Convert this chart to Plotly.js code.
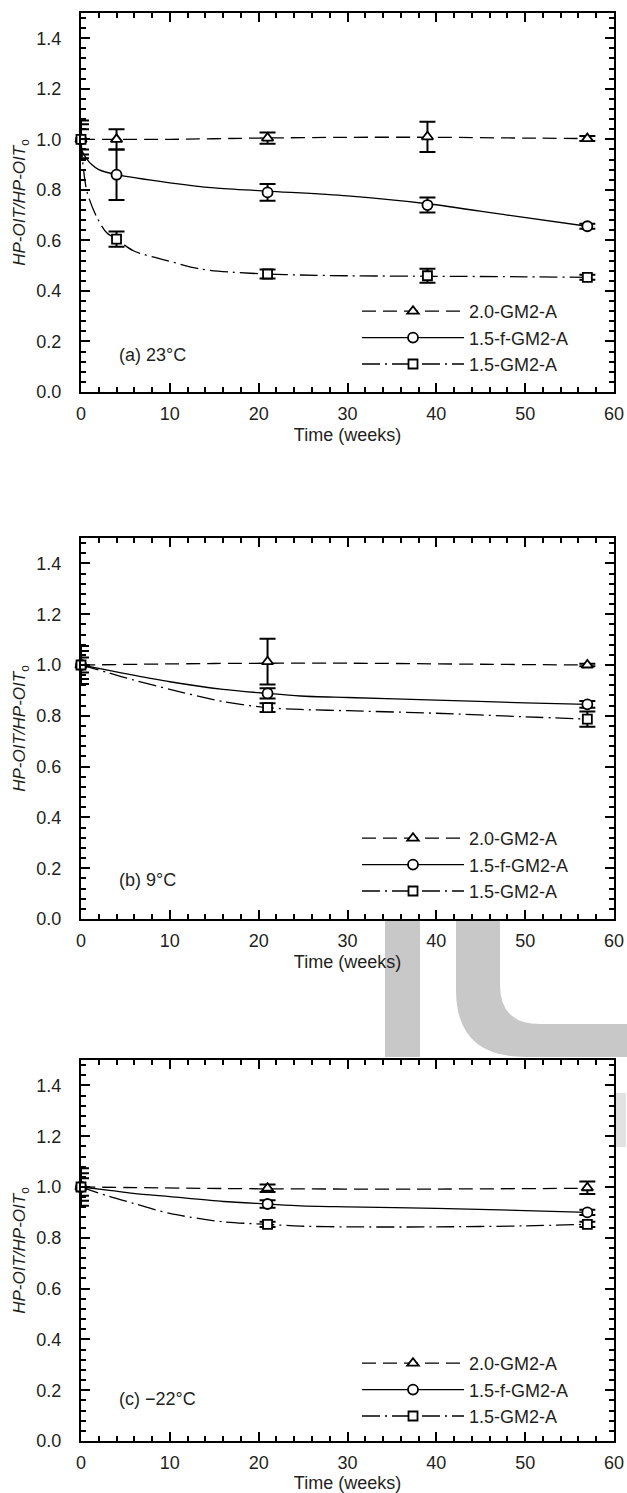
<!DOCTYPE html>
<html><head><meta charset="utf-8">
<script src="https://cdn.plot.ly/plotly-3.0.1.min.js"></script>
<style>html,body{margin:0;padding:0;background:#fff}</style>
</head><body><div id="chart" style="width:627px;height:1493px"></div>
<script>
// ---------- data ----------
const seriesNames = ['2.0-GM2-A', '1.5-f-GM2-A', '1.5-GM2-A'];
const panelLabels = ['(a) 23°C', '(b) 9°C', '(c) \u221222°C'];
const xTitle = 'Time (weeks)';
const yTitle = '<i>HP-OIT/HP-OIT</i><sub>o</sub>';

// measured points (weeks)
const weeksA = [0, 4, 21, 39, 57];
const weeksBC = [0, 21, 57];

// panel (a) 23°C
const a_tri_y = [1.0, 1.0, 1.005, 1.01, 1.003];
const a_tri_err = [0.04, 0.04, 0.022, 0.06, 0.01];
const a_cir_y = [1.0, 0.86, 0.79, 0.74, 0.656];
const a_cir_err = [0.06, 0.1, 0.033, 0.03, 0.01];
const a_sq_y = [1.0, 0.605, 0.467, 0.46, 0.454];
const a_sq_err = [0.075, 0.03, 0.018, 0.028, 0.01];

// panel (b) 9°C
const b_tri_y = [1.0, 1.013, 1.0];
const b_tri_err = [0.03, 0.09, 0.005];
const b_cir_y = [1.0, 0.888, 0.845];
const b_cir_err = [0.055, 0.02, 0.013];
const b_sq_y = [1.0, 0.832, 0.787];
const b_sq_err = [0.075, 0.017, 0.03];

// panel (c) -22°C
const c_tri_y = [1.0, 0.995, 0.997];
const c_tri_err = [0.034, 0.015, 0.025];
const c_cir_y = [1.0, 0.933, 0.9];
const c_cir_err = [0.054, 0.015, 0.01];
const c_sq_y = [1.0, 0.853, 0.853];
const c_sq_err = [0.074, 0.01, 0.01];

// fitted curves
const a_triFit_x = [0, 10, 20, 30, 40, 50, 57];
const a_triFit_y = [1.0, 1.0, 1.005, 1.008, 1.008, 1.005, 1.003];
const a_cirFit_x = [0, 0.6, 1.2, 2, 4, 10, 15, 21, 30, 39, 48, 57];
const a_cirFit_y = [0.96, 0.925, 0.9, 0.88, 0.86, 0.828, 0.808, 0.795, 0.776, 0.745, 0.70, 0.656];
const a_sqFit_x = [0, 0.26, 0.7, 1.8, 2.9, 4, 5.9, 9.7, 13.4, 17.1, 21, 24.7, 30, 40, 50, 57];
const a_sqFit_y = [1.0, 0.887, 0.789, 0.69, 0.63, 0.605, 0.559, 0.52, 0.487, 0.474, 0.467, 0.463, 0.46, 0.458, 0.456, 0.454];

const b_triFit_x = [0, 15, 30, 45, 57];
const b_triFit_y = [1.0, 1.006, 1.007, 1.003, 1.0];
const b_cirFit_x = [0, 3, 5.9, 10, 16, 21, 24.7, 30, 40, 50, 57];
const b_cirFit_y = [1.0, 0.98, 0.96, 0.934, 0.904, 0.888, 0.878, 0.872, 0.862, 0.851, 0.845];
const b_sqFit_x = [0, 3, 5.9, 10, 16, 21, 24.7, 30, 40, 50, 57];
const b_sqFit_y = [1.0, 0.97, 0.941, 0.904, 0.856, 0.832, 0.825, 0.82, 0.81, 0.796, 0.787];

const c_triFit_x = [0, 20, 40, 57];
const c_triFit_y = [1.0, 0.993, 0.992, 0.995];
const c_cirFit_x = [0, 3, 5.9, 10, 16, 21, 24.7, 30, 40, 50, 57];
const c_cirFit_y = [1.0, 0.988, 0.975, 0.962, 0.943, 0.933, 0.926, 0.922, 0.916, 0.907, 0.9];
const c_sqFit_x = [0, 3, 5.9, 10, 16, 21, 24.7, 30, 40, 50, 57];
const c_sqFit_y = [1.0, 0.965, 0.936, 0.896, 0.863, 0.853, 0.846, 0.843, 0.843, 0.847, 0.853];

// ---------- styling / layout ----------
const INK = '#000';
const TXT = '#231f20';
const FONT = 'Liberation Sans, Arial, Helvetica, sans-serif';
const ML = 81, MR = 13, MT = 13, MB = 52, W = 627, H = 1493;
const PW = W - ML - MR, PH = H - MT - MB;
const px2x = px => (px - ML) / PW;
const px2y = py => (H - MB - py) / PH;

const panelsPx = [[13, 392], [538, 919], [1060, 1441]];
const legendOffsets = [99, 99, 96];
const labelOffsets = [37, 39, 42];
const symbols = ['triangle-up', 'circle', 'square'];
const sizes = [10, 10, 9];
const dashes = ['14px,7px', 'solid', '18px,5px,2px,5px'];

const panels = [
  {x: weeksA, ys: [a_tri_y, a_cir_y, a_sq_y], errs: [a_tri_err, a_cir_err, a_sq_err],
   fits: [[a_triFit_x, a_triFit_y], [a_cirFit_x, a_cirFit_y], [a_sqFit_x, a_sqFit_y]]},
  {x: weeksBC, ys: [b_tri_y, b_cir_y, b_sq_y], errs: [b_tri_err, b_cir_err, b_sq_err],
   fits: [[b_triFit_x, b_triFit_y], [b_cirFit_x, b_cirFit_y], [b_sqFit_x, b_sqFit_y]]},
  {x: weeksBC, ys: [c_tri_y, c_cir_y, c_sq_y], errs: [c_tri_err, c_cir_err, c_sq_err],
   fits: [[c_triFit_x, c_triFit_y], [c_cirFit_x, c_cirFit_y], [c_sqFit_x, c_sqFit_y]]}
];

const traces = [];
const layout = {
  width: W, height: H,
  margin: {l: ML, r: MR, t: MT, b: MB},
  paper_bgcolor: '#fff', plot_bgcolor: '#fff',
  font: {family: FONT, size: 18, color: TXT},
  showlegend: true,
  annotations: [], shapes: []
};

panels.forEach((p, i) => {
  const n = i === 0 ? '' : String(i + 1);
  const xa = 'x' + n, ya = 'y' + n;
  const legName = 'legend' + n;
  for (let s = 0; s < 3; s++) {
    traces.push({
      x: p.fits[s][0], y: p.fits[s][1], xaxis: xa, yaxis: ya,
      mode: 'lines', line: {color: INK, width: 1.3, dash: dashes[s], shape: 'spline', smoothing: 0.8},
      showlegend: false, hoverinfo: 'skip'
    });
  }
  for (let s = 0; s < 3; s++) {
    traces.push({
      x: p.x, y: p.ys[s], xaxis: xa, yaxis: ya, mode: 'markers', cliponaxis: false,
      marker: {symbol: symbols[s], size: sizes[s], color: '#fff', line: {color: INK, width: 1.8}},
      error_y: {type: 'data', array: p.errs[s], visible: true, color: INK, thickness: 2, width: 8},
      showlegend: false, name: seriesNames[s]
    });
  }
  for (let s = 0; s < 3; s++) {
    // legend entry only (single empty point)
    traces.push({
      x: [null], y: [null], xaxis: xa, yaxis: ya, mode: 'lines+markers', name: seriesNames[s],
      legend: legName, showlegend: true,
      line: {color: INK, width: 1.3, dash: dashes[s]},
      marker: {symbol: symbols[s], size: sizes[s], color: '#fff', line: {color: INK, width: 1.8}}
    });
  }
  const [top, bot] = panelsPx[i];
  layout['xaxis' + n] = {
    anchor: ya, domain: [0, 1], range: [0, 60], dtick: 10, tick0: 0,
    ticks: 'inside', ticklen: 9, tickwidth: 2, tickcolor: INK,
    showline: true, linewidth: 2, linecolor: INK, mirror: 'allticks',
    minor: {dtick: 2, ticklen: 5, tickwidth: 2, tickcolor: INK, ticks: 'inside'},
    showgrid: false, zeroline: false, ticklabelstandoff: 4,
    tickfont: {size: 18, color: TXT, family: FONT},
    title: {text: xTitle, standoff: 6, font: {size: 18, color: TXT, family: FONT}},
    automargin: false, fixedrange: true
  };
  layout['yaxis' + n] = {
    anchor: xa, domain: [px2y(bot), px2y(top)], range: [0, 1.5], dtick: 0.2, tick0: 0, tickformat: '.1f',
    ticks: 'inside', ticklen: 9, tickwidth: 2, tickcolor: INK,
    showline: true, linewidth: 2, linecolor: INK, mirror: 'allticks',
    minor: {dtick: 0.04, ticklen: 5, tickwidth: 2, tickcolor: INK, ticks: 'inside'},
    showgrid: false, zeroline: false, ticklabelstandoff: 14,
    tickfont: {size: 18, color: TXT, family: FONT},
    title: {text: yTitle, standoff: 6, font: {size: 17, color: TXT, family: FONT}},
    automargin: false, fixedrange: true
  };
  layout[legName] = {
    x: px2x(357), xanchor: 'left', y: px2y(bot - legendOffsets[i]), yanchor: 'top',
    bgcolor: 'rgba(0,0,0,0)', borderwidth: 0, itemwidth: 102, visible: true,
    font: {size: 18, color: TXT, family: FONT}, tracegroupgap: 0
  };
  layout.annotations.push({
    text: panelLabels[i], xref: 'paper', yref: 'paper', x: px2x(117), y: px2y(bot - labelOffsets[i]),
    xanchor: 'left', yanchor: 'middle', showarrow: false, font: {size: 18, color: TXT, family: FONT}
  });
});

// faint watermark between panels (b) and (c)
const GREY = '#c8c8c8';
const P = (x, y) => px2x(x).toFixed(4) + ',' + px2y(y).toFixed(4);
layout.shapes.push({type: 'rect', xref: 'paper', yref: 'paper', layer: 'below',
  x0: px2x(385), x1: px2x(420), y0: px2y(1057), y1: px2y(919), fillcolor: GREY, line: {width: 0}});
layout.shapes.push({type: 'path', xref: 'paper', yref: 'paper', layer: 'below', fillcolor: GREY, line: {width: 0},
  path: 'M' + P(456, 919) + ' L' + P(456, 990) + ' Q' + P(456, 1057) + ' ' + P(525, 1057) +
        ' L' + P(627, 1057) + ' L' + P(627, 1024) + ' L' + P(540, 1024) +
        ' Q' + P(500, 1024) + ' ' + P(500, 985) + ' L' + P(500, 919) + ' Z'});
layout.shapes.push({type: 'rect', xref: 'paper', yref: 'paper', layer: 'below',
  x0: px2x(616), x1: px2x(626), y0: px2y(1147), y1: px2y(1093), fillcolor: '#e2e2e2', line: {width: 0}});

Plotly.newPlot('chart', traces, layout, {displayModeBar: false});
</script></body></html>
